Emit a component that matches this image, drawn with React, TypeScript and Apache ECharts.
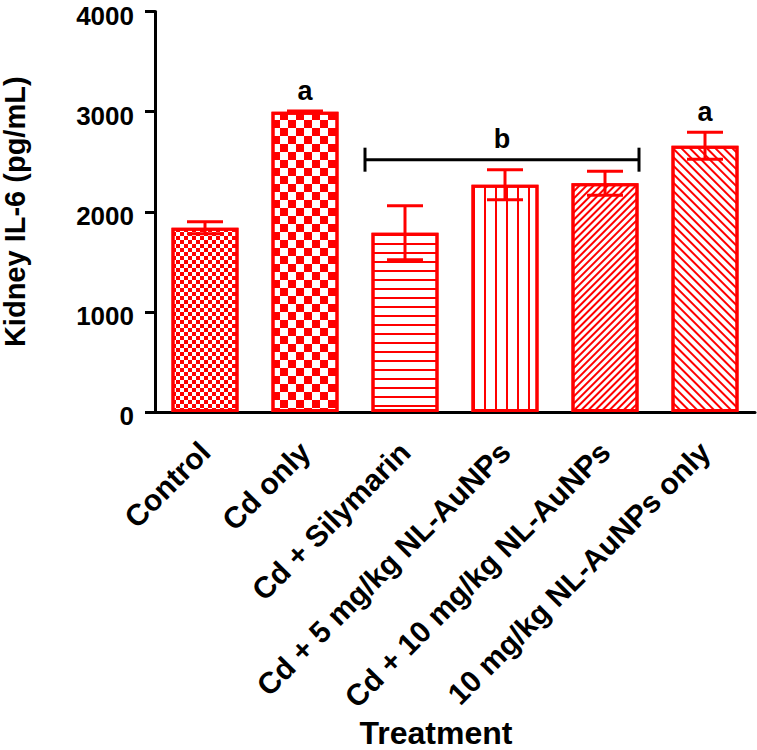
import React, { useEffect, useRef } from "react";
import * as echarts from "echarts";

// ---- data ----
const categories = [
  "Control",
  "Cd only",
  "Cd + Silymarin",
  "Cd + 5 mg/kg NL-AuNPs",
  "Cd + 10 mg/kg NL-AuNPs",
  "10 mg/kg NL-AuNPs only",
];
const means = [1840, 3000, 1790, 2270, 2285, 2660];
const sems = [60, 5, 270, 150, 120, 135];
const letters = ["", "a", "", "", "", "a"];
const bracketSpan = [2, 4];
const bracketValue = 2520;
const bracketLabel = "b";
const yMin = 0;
const yMax = 4000;
const yInterval = 1000;
const xTitle = "Treatment";
const yTitle = "Kidney IL-6 (pg/mL)";

const RED = "#ff0000";
const FONT = "'Liberation Sans', Arial, Helvetica, sans-serif";

const decals: any[] = [
  { symbol: "rect", symbolSize: 1, color: RED, dashArrayX: [[3.5, 3.5], [0, 3.5, 3.5, 0]], dashArrayY: [3.5, 0] },
  { symbol: "rect", symbolSize: 1, color: RED, dashArrayX: [[8, 8], [0, 8, 8, 0]], dashArrayY: [8, 0] },
  { symbol: "rect", symbolSize: 1, color: RED, dashArrayX: [1, 0], dashArrayY: [1.6, 6.7] },
  { symbol: "rect", symbolSize: 1, color: RED, dashArrayX: [2, 9], dashArrayY: [1, 0] },
  { symbol: "rect", symbolSize: 1, color: RED, dashArrayX: [1, 0], dashArrayY: [2, 3], rotation: -Math.PI / 4 },
  { symbol: "rect", symbolSize: 1, color: RED, dashArrayX: [1, 0], dashArrayY: [2, 3.6], rotation: Math.PI / 4 },
];

export default function App() {
  const ref = useRef<HTMLDivElement>(null);
  useEffect(() => {
    if (!ref.current) return;
    const chart = echarts.init(ref.current, undefined, { renderer: "svg" });

    const errData = means.map((m, i) => [i, m, sems[i]]);
    const letterData = letters
      .map((t, i) => [i, means[i] + sems[i], t])
      .filter((d) => d[2] !== "");

    const option: any = {
      animation: false,
      backgroundColor: "#ffffff",
      grid: {
        left: 155,
        right: 2,
        top: 11.5,
        bottom: 338,
        containLabel: false,
        outerBoundsMode: "none",
      },
      graphic: [
        {
          type: "text",
          x: 436,
          y: 749,
          style: {
            text: xTitle,
            font: `bold 32px ${FONT}`,
            fill: "#000",
            align: "center",
            verticalAlign: "bottom",
          },
        },
      ],
      xAxis: {
        type: "category",
        data: categories,
        axisLine: { lineStyle: { color: "#000", width: 3 } },
        axisTick: { alignWithLabel: true, length: 12, lineStyle: { color: "#000", width: 3 } },
        axisLabel: {
          interval: 0,
          rotate: 45,
          margin: 35,
          fontFamily: FONT,
          fontWeight: "bold",
          fontSize: 30,
          color: "#000",
          hideOverlap: false,
        },
        splitLine: { show: false },
      },
      yAxis: {
        type: "value",
        min: yMin,
        max: yMax,
        interval: yInterval,
        name: yTitle,
        nameLocation: "middle",
        nameGap: 126,
        nameTextStyle: { fontFamily: FONT, fontWeight: "bold", fontSize: 29, color: "#000" },
        axisLine: { show: true, lineStyle: { color: "#000", width: 3 } },
        axisTick: { show: true, length: 10, lineStyle: { color: "#000", width: 3 } },
        axisLabel: {
          margin: 21,
          fontFamily: FONT,
          fontWeight: "bold",
          fontSize: 26,
          lineHeight: 8,
          verticalAlign: "top",
          color: "#000",
          formatter: (v: number) => String(v),
        },
        splitLine: { show: false },
      },
      series: [
        {
          type: "bar",
          barWidth: 67,
          data: means.map((v, i) => ({ value: v, itemStyle: { decal: decals[i] } })),
          itemStyle: { color: "#ffffff", borderColor: RED, borderWidth: 3 },
          z: 2,
        },
        {
          type: "custom",
          z: 3,
          data: errData,
          encode: { x: 0, y: 1 },
          renderItem: (params: any, api: any) => {
            const i = api.value(0);
            const m = api.value(1);
            const s = api.value(2);
            const top = api.coord([i, m + s]);
            const bot = api.coord([i, m - s]);
            const half = 18;
            const st = { stroke: RED, lineWidth: 3 };
            return {
              type: "group",
              children: [
                { type: "line", shape: { x1: top[0], y1: top[1], x2: bot[0], y2: bot[1] }, style: st },
                { type: "line", shape: { x1: top[0] - half, y1: top[1], x2: top[0] + half, y2: top[1] }, style: st },
                { type: "line", shape: { x1: bot[0] - half, y1: bot[1], x2: bot[0] + half, y2: bot[1] }, style: st },
              ],
            };
          },
        },
        {
          type: "custom",
          z: 4,
          data: letterData,
          encode: { x: 0, y: 1 },
          renderItem: (params: any, api: any) => {
            const i = api.value(0);
            const v = api.value(1);
            const p = api.coord([i, v]);
            return {
              type: "text",
              x: p[0],
              y: p[1] - 7,
              style: {
                text: letterData[params.dataIndex][2],
                font: `bold 27px ${FONT}`,
                fill: "#000",
                align: "center",
                verticalAlign: "bottom",
              },
            };
          },
        },
        {
          type: "custom",
          z: 4,
          data: [[bracketSpan[0], bracketSpan[1], bracketValue]],
          encode: { x: [0, 1], y: 2 },
          renderItem: (params: any, api: any) => {
            const a = api.coord([api.value(0), api.value(2)]);
            const b = api.coord([api.value(1), api.value(2)]);
            const x1 = a[0] - 40;
            const x2 = b[0] + 34;
            const y = a[1];
            const st = { stroke: "#000", lineWidth: 3 };
            return {
              type: "group",
              children: [
                { type: "line", shape: { x1, y1: y, x2, y2: y }, style: st },
                { type: "line", shape: { x1, y1: y - 12, x2: x1, y2: y + 12 }, style: st },
                { type: "line", shape: { x1: x2, y1: y - 12, x2, y2: y + 12 }, style: st },
                {
                  type: "text",
                  x: (x1 + x2) / 2,
                  y: y - 7,
                  style: {
                    text: bracketLabel,
                    font: `bold 27px ${FONT}`,
                    fill: "#000",
                    align: "center",
                    verticalAlign: "bottom",
                  },
                },
              ],
            };
          },
        },
      ],
    };
    chart.setOption(option);
    return () => chart.dispose();
  }, []);

  return (
    <div
      ref={ref}
      style={{ position: "fixed", left: 0, top: 0, width: 757, height: 750, background: "#fff" }}
    />
  );
}
